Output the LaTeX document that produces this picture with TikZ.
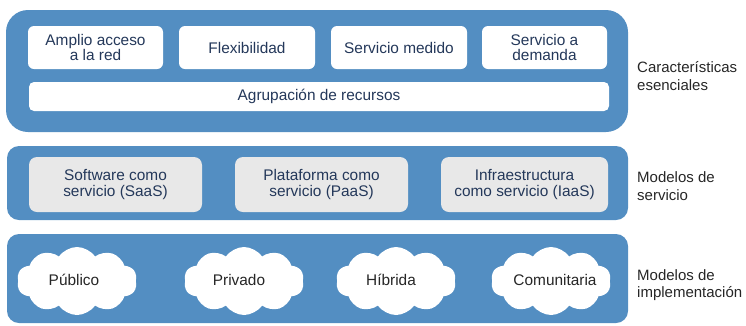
\documentclass[tikz,border=0pt]{standalone}
\usepackage{fontspec}
\setmainfont{Liberation Sans}
\usetikzlibrary{shapes.symbols}
\definecolor{bandblue}{RGB}{83,142,194}
\definecolor{navytext}{RGB}{36,56,90}
\definecolor{greyfill}{RGB}{232,232,232}
\definecolor{darktext}{RGB}{38,38,38}
\tikzset{
  band/.style={fill=bandblue, draw=none},
  whitebox/.style={fill=white, draw=none, rounded corners=6pt, inner sep=0pt, align=center, text=navytext,
     font=\fontsize{15.4}{15.5}\selectfont},
  greybox/.style={fill=greyfill, draw=none, rounded corners=8pt, inner sep=0pt, align=center, text=navytext,
     font=\fontsize{15.4}{16}\selectfont},
  cloudbox/.style 2 args={cloud, cloud puffs=10, cloud puff arc=110, aspect=1.8, fill=white, draw=none, inner sep=0pt,
     minimum width=120pt, minimum height=68pt,
     label={[text=darktext, font=\fontsize{15.4}{16}\selectfont, inner sep=0pt, xshift=#2, yshift=1pt]center:#1}},
  sidelabel/.style={anchor=west, align=left, inner sep=0pt, text=darktext, font=\fontsize{15}{17.5}\selectfont},
}
\begin{document}
\begin{tikzpicture}[x=1pt,y=-1pt]
\useasboundingbox (0,0) rectangle (746,325);
% bands
\path[band, rounded corners=22pt] (6,10) rectangle (628,132);
\path[band, rounded corners=12pt] (7,146) rectangle (628,220);
\path[band, rounded corners=12pt] (7,234) rectangle (628,323);
% top row
\node[whitebox, minimum width=135pt, minimum height=43pt] (acceso) at (95.5,47.5) {Amplio acceso\\a la red};
\node[whitebox, minimum width=136pt, minimum height=43pt] (flex) at (247,47.5) {Flexibilidad};
\node[whitebox, minimum width=136pt, minimum height=43pt] (medido) at (399,47.5) {Servicio medido};
\node[whitebox, minimum width=125pt, minimum height=43pt] (demanda) at (544.5,47.5) {Servicio a\\demanda};
\node[whitebox, rounded corners=5pt, minimum width=580pt, minimum height=29pt] (agrup) at (319,96.5) {Agrupación de recursos};
% service models
\node[greybox, minimum width=173pt, minimum height=55pt] (saas) at (115.5,184.5) {Software como\\servicio (SaaS)};
\node[greybox, minimum width=173pt, minimum height=55pt] (paas) at (321.5,184.5) {Plataforma como\\servicio (PaaS)};
\node[greybox, minimum width=167pt, minimum height=55pt] (iaas) at (524.5,184.5) {Infraestructura\\como servicio (IaaS)};
% clouds
\node[cloudbox={Público}{-3pt}] (publico) at (77,281) {};
\node[cloudbox={Privado}{-5pt}] (privado) at (244,281) {};
\node[cloudbox={Híbrida}{-5pt}] (hibrida) at (396,281) {};
\node[cloudbox={Comunitaria}{4pt}] (comun) at (551,281) {};
% side labels
\node[sidelabel] (lcar) at (637,76) {Características\\esenciales};
\node[sidelabel] (lserv) at (637,186) {Modelos de\\servicio};
\node[sidelabel] (limpl) at (637,285) {Modelos de\\implementación};
\end{tikzpicture}
\end{document}
